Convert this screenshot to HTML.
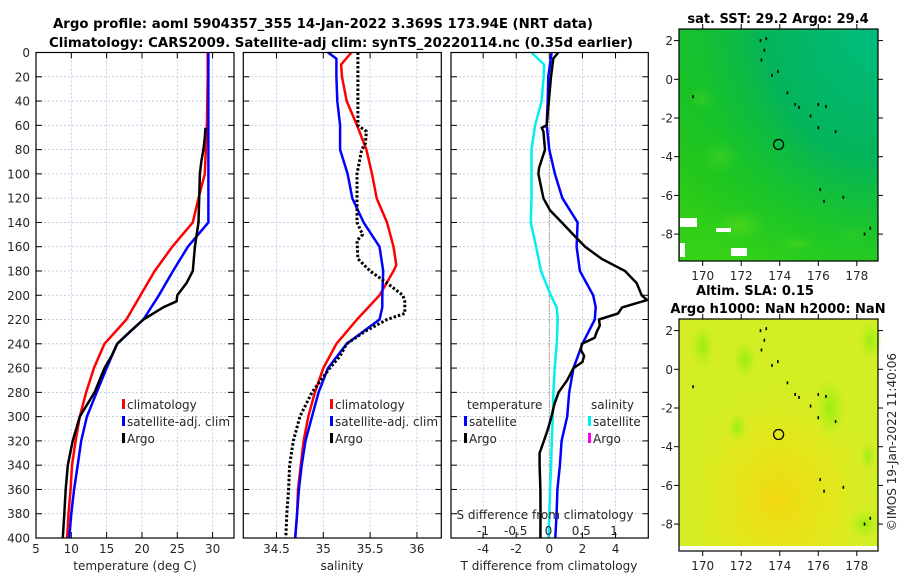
<!DOCTYPE html>
<html><head><meta charset="utf-8"><style>
html,body{margin:0;padding:0;background:#fff;}
svg{display:block;font-family:"DejaVu Sans","Liberation Sans",sans-serif;}
</style></head><body>
<svg id="fig" width="900" height="580" viewBox="0 0 900 580" xmlns="http://www.w3.org/2000/svg">
<defs>
<radialGradient id="sstTeal" cx="1" cy="0" r="1.25"><stop offset="0" stop-color="#00bc80"/><stop offset="0.45" stop-color="#04b45a"/><stop offset="0.75" stop-color="#10c030" stop-opacity="0.6"/><stop offset="1" stop-color="#10c020" stop-opacity="0"/></radialGradient>
<linearGradient id="sstBase" x1="0" y1="0" x2="0.3" y2="1"><stop offset="0" stop-color="#20c030"/><stop offset="0.5" stop-color="#28c818"/><stop offset="1" stop-color="#38d418"/></linearGradient>
<radialGradient id="sstLight" cx="0.5" cy="0.5" r="0.5"><stop offset="0" stop-color="#70e018" stop-opacity="0.8"/><stop offset="1" stop-color="#60e010" stop-opacity="0"/></radialGradient>
<radialGradient id="slaYellow" cx="0.5" cy="0.78" r="0.5"><stop offset="0" stop-color="#f2d810"/><stop offset="0.6" stop-color="#e8e418" stop-opacity="0.6"/><stop offset="1" stop-color="#e0ec20" stop-opacity="0"/></radialGradient>
<radialGradient id="slaGreen" cx="0.5" cy="0.5" r="0.5"><stop offset="0" stop-color="#98ee10"/><stop offset="1" stop-color="#b0f018" stop-opacity="0"/></radialGradient>
</defs>
</svg>
<script>
// ---- data (depth in m) ----
const depthTicks=[0,20,40,60,80,100,120,140,160,180,200,220,240,260,280,300,320,340,360,380,400];
const tempTicks=[5,10,15,20,25,30];
const salTicks=[34.5,35,35.5,36];
const tdiffTicks=[-4,-2,0,2,4];
const sdiffTicks=[-1,-0.5,0,0.5,1];
const sdiffTickLabels=["-1","-0.5","0","0.5","1"];
const lonTicks=[170,172,174,176,178];
const latTicks=[2,0,-2,-4,-6,-8];

const tClimDepth=[0,20,60,100,120,140,160,180,200,220,240,260,280,300,320,340,360,380,400];
const tClim=[29.3,29.3,29.2,28.9,28.0,27.2,24.3,21.8,19.8,17.8,14.7,13.2,12.1,11.2,10.6,10.1,9.9,9.6,9.4];
const tSatDepth=[0,40,80,120,140,160,180,200,220,240,260,280,300,320,340,360,380,400];
const tSat=[29.4,29.4,29.4,29.4,29.4,26.5,24.4,22.4,20.2,16.5,15.0,13.6,12.2,11.4,10.9,10.4,10.0,9.7];
const tArgoDepth=[62,70,80,90,100,120,140,160,180,190,200,205,210,220,230,240,250,260,280,300,320,340,360,380,400];
const tArgo=[29.0,28.9,28.7,28.4,28.2,28.1,28.0,27.5,27.2,26.3,25.0,24.9,23.0,20.2,18.3,16.5,15.7,14.7,13.3,11.2,10.2,9.5,9.2,9.0,8.8];

const sClimDepth=[0,10,20,40,60,80,100,120,140,160,175,180,200,220,240,260,280,300,320,340,360,380,400];
const sClim=[35.30,35.19,35.20,35.25,35.36,35.46,35.52,35.57,35.68,35.75,35.78,35.75,35.60,35.36,35.14,35.0,34.91,34.84,34.79,34.76,34.73,34.72,34.70];
const sSatDepth=[0,5,20,40,60,80,100,120,140,160,180,200,210,220,240,260,280,300,320,340,360,380,400];
const sSat=[35.05,35.14,35.14,35.15,35.18,35.18,35.26,35.31,35.43,35.60,35.64,35.63,35.63,35.60,35.25,35.05,34.95,34.88,34.81,34.77,34.74,34.72,34.70];
const sArgoDepth=[0,60,65,75,80,100,120,140,150,155,170,180,190,200,205,215,220,230,240,250,260,280,300,320,340,360,380,400];
const sArgo=[35.37,35.37,35.46,35.45,35.41,35.36,35.36,35.36,35.42,35.36,35.37,35.50,35.68,35.85,35.87,35.87,35.68,35.44,35.25,35.18,35.07,34.88,34.75,34.68,34.64,34.63,34.61,34.60];

const dTSatDepth=[0,20,40,60,80,100,120,140,160,180,200,210,220,240,260,280,300,320,340,360,380,400];
const dTSat=[0.14,-0.06,-0.1,-0.16,0,0.34,0.79,1.71,1.65,1.85,2.65,2.8,2.75,2.0,1.46,1.2,1.08,0.74,0.64,0.49,0.44,0.36];
const dTArgoDepth=[0,5,20,60,62,65,80,95,100,120,130,140,150,160,170,180,190,200,204,210,215,220,225,230,235,240,245,250,255,260,270,280,290,300,310,320,330,340,360,380,400];
const dTArgo=[0.54,0.24,0.1,-0.16,-0.46,-0.36,-0.26,-0.62,-0.66,-0.36,0.04,0.75,1.45,2.16,3.16,4.57,5.28,5.58,5.9,4.4,4.15,3.0,3.05,2.87,2.74,1.97,1.9,2.1,2.0,1.46,1.08,0.56,0.3,0.13,-0.08,-0.33,-0.59,-0.59,-0.54,-0.53,-0.54];
const dSSatDepth=[0,10,20,40,60,80,100,120,140,160,180,200,210,220,240,260,280,300,320,340,360,380,400];
const dSSat=[-0.26,-0.065,-0.075,-0.105,-0.205,-0.26,-0.26,-0.26,-0.27,-0.19,-0.115,0.035,0.125,0.14,0.125,0.095,0.075,0.065,0.05,0.04,0.025,0.012,0];

const islands=[[173,2.0],[173.2,1.5],[173.05,1.0],[173.3,2.1],[173.6,0.2],[173.9,0.4],[174.4,-0.7],[174.8,-1.3],[175.0,-1.45],[175.6,-1.9],[176,-1.3],[176.4,-1.4],[176,-2.5],[176.9,-2.7],[169.5,-0.9],[176.1,-5.7],[176.3,-6.3],[177.3,-6.1],[178.4,-8.0],[178.7,-7.7]];
const argoPos=[173.94,-3.369];

// ---- layout ----
const NS="http://www.w3.org/2000/svg";
const svg=document.getElementById('fig');
function el(tag,attrs,parent,text){const e=document.createElementNS(NS,tag);for(const k in attrs)e.setAttribute(k,attrs[k]);if(text!==undefined)e.textContent=text;(parent||svg).appendChild(e);return e;}
const Y0=52.5,Y1=538;
const yD=d=>Y0+(d/400)*(Y1-Y0);
function lin(d0,d1,p0,p1){return v=>p0+(v-d0)/(d1-d0)*(p1-p0);}
const panels=[
 {x0:36,x1:234,name:'temperature-panel',xs:lin(5,33.03,36,234)},
 {x0:243.3,x1:441.3,name:'salinity-panel',xs:lin(34.146,36.26,243.3,441.3)},
 {x0:451,x1:648.3,name:'difference-panel',xs:lin(-5.94,5.98,451,648.3)}
];
const sdx=lin(-1,1,483,614);

function panelFrame(p,xticks,xlabels,gridXs){
 const g=el('g',{}, svg);
 
 
 el('rect',{x:p.x0,y:Y0,width:p.x1-p.x0,height:Y1-Y0,fill:'#fff'},g);
 depthTicks.forEach(d=>{
  const l=el('line',{x1:p.x0,x2:p.x1,y1:yD(d),y2:yD(d),stroke:'#b8c4e0','stroke-width':0.8,'stroke-dasharray':'2,2'},g);
  
  el('line',{x1:p.x0,x2:p.x0+6,y1:yD(d),y2:yD(d),stroke:'#000','stroke-width':1},g);
  el('line',{x1:p.x1-6,x2:p.x1,y1:yD(d),y2:yD(d),stroke:'#000','stroke-width':1},g);
 });
 gridXs.forEach(x=>{
  const l=el('line',{x1:x,x2:x,y1:Y0,y2:Y1,stroke:'#b8c4e0','stroke-width':0.8,'stroke-dasharray':'2,2'},g);
  
  el('line',{x1:x,x2:x,y1:Y1,y2:Y1-6,stroke:'#000','stroke-width':1},g);
  el('line',{x1:x,x2:x,y1:Y0,y2:Y0+6,stroke:'#000','stroke-width':1},g);
 });
 xticks.forEach((x,i)=>{
  const t=el('text',{x:x,y:553,'font-size':12,'text-anchor':'middle',fill:'#262626'},g,xlabels[i]);
  
 });
 return g;
}
function line(g,xs,ds,vals,color,w,name,dash){
 const pts=vals.map((v,i)=>xs(v).toFixed(1)+','+yD(ds[i]).toFixed(1)).join(' ');
 const a={points:pts,fill:'none',stroke:color,'stroke-width':w,'stroke-linejoin':'round'};
 if(dash)a['stroke-dasharray']=dash;
 const pl=el('polyline',a,g);
 
 
}
function frame(p,g){el('rect',{x:p.x0,y:Y0,width:p.x1-p.x0,height:Y1-Y0,fill:'none',stroke:'#000','stroke-width':1.2},g);}
function legendItem(g,x,y,color,label,name){
 el('rect',{x:x,y:y-10,width:3,height:10,fill:color},g);
 const t=el('text',{x:x+5,y:y,'font-size':12,fill:'#262626'},g,label);
 
}

// panel 1
let p=panels[0];
let g=panelFrame(p,tempTicks.map(p.xs),tempTicks.map(String),tempTicks.slice(1).map(p.xs));
line(g,p.xs,tClimDepth,tClim,'#ff0000',2.5,'temp-climatology-line');
line(g,p.xs,tSatDepth,tSat,'#0000ff',2.5,'temp-satellite-line');
line(g,p.xs,tArgoDepth,tArgo,'#000',2.5,'temp-argo-line');
frame(p,g);
depthTicks.forEach(d=>{const t=el('text',{x:30,y:yD(d)+4.5,'font-size':12,'text-anchor':'end',fill:'#262626'},svg,String(d));});
el('text',{x:135,y:570,'font-size':12,'text-anchor':'middle',fill:'#262626'},svg,'temperature (deg C)');
legendItem(g,122,409,'#ff0000','climatology','legend-climatology');
legendItem(g,122,426,'#0000ff','satellite-adj. clim','legend-satellite');
legendItem(g,122,443,'#000','Argo','legend-argo');

// panel 2
p=panels[1];
g=panelFrame(p,salTicks.map(p.xs),salTicks.map(String),salTicks.map(p.xs));
line(g,p.xs,sClimDepth,sClim,'#ff0000',2.5,'sal-climatology-line');
line(g,p.xs,sSatDepth,sSat,'#0000ff',2.5,'sal-satellite-line');
line(g,p.xs,sArgoDepth,sArgo,'#000',3,'sal-argo-line','2.5,2');
frame(p,g);
el('text',{x:342,y:570,'font-size':12,'text-anchor':'middle',fill:'#262626'},svg,'salinity');
legendItem(g,330,409,'#ff0000','climatology','legend-climatology');
legendItem(g,330,426,'#0000ff','satellite-adj. clim','legend-satellite');
legendItem(g,330,443,'#000','Argo','legend-argo');

// panel 3
p=panels[2];
g=panelFrame(p,tdiffTicks.map(p.xs),tdiffTicks.map(String),tdiffTicks.map(p.xs));
el('line',{x1:p.xs(0),x2:p.xs(0),y1:Y0,y2:Y1,stroke:'#6b5a2a','stroke-width':1,'stroke-dasharray':'1,2'},g);
line(g,sdx,dSSatDepth,dSSat,'#00f0f0',2.5,'sal-diff-satellite-line');
line(g,p.xs,dTSatDepth,dTSat,'#0000ff',2.5,'temp-diff-satellite-line');
line(g,p.xs,dTArgoDepth,dTArgo,'#000',2.5,'temp-diff-argo-line');
frame(p,g);
el('text',{x:467,y:409,'font-size':12,fill:'#262626'},g,'temperature');
el('text',{x:591,y:409,'font-size':12,fill:'#262626'},g,'salinity');
legendItem(g,464,426,'#0000ff','satellite','legend-temp-satellite');
legendItem(g,464,443,'#000','Argo','legend-temp-argo');
legendItem(g,588,426,'#00f0f0','satellite','legend-sal-satellite');
legendItem(g,588,443,'#ff00e0','Argo','legend-sal-argo');
el('text',{x:545,y:519,'font-size':12,'text-anchor':'middle',fill:'#262626'},g,'S difference from climatology');
sdiffTicks.forEach((v,i)=>{const t=el('text',{x:sdx(v),y:535,'font-size':12,'text-anchor':'middle',fill:'#262626'},g,sdiffTickLabels[i]);});
el('text',{x:549,y:570,'font-size':12,'text-anchor':'middle',fill:'#262626'},svg,'T difference from climatology');

// titles
el('text',{x:323,y:28,'font-size':13,'font-weight':'bold','text-anchor':'middle',textLength:540,lengthAdjust:'spacingAndGlyphs'},svg,'Argo profile: aoml 5904357_355 14-Jan-2022 3.369S 173.94E (NRT data)');
el('text',{x:341,y:47,'font-size':13,'font-weight':'bold','text-anchor':'middle',textLength:584,lengthAdjust:'spacingAndGlyphs'},svg,'Climatology: CARS2009. Satellite-adj clim: synTS_20220114.nc (0.35d earlier)');

// maps
function map(top,name,fills){
 const lon=lin(168.77,179.1,679,878);
 const lat=v=>top+50.3-v*19.35;
 const mg=el('g',{},svg);
 
 
 fills(mg,lon,lat);
 islands.forEach(c=>{const r=el('rect',{x:lon(c[0])-0.8,y:lat(c[1])-1.5,width:1.6,height:3,fill:'#000'},mg);});
 el('circle',{cx:lon(argoPos[0]),cy:lat(argoPos[1]),r:5,fill:'none',stroke:'#000','stroke-width':1.3},mg);
 el('rect',{x:679,y:top,width:199,height:232,fill:'none',stroke:'#000','stroke-width':1.2},mg);
 latTicks.forEach(v=>{
  el('line',{x1:674,x2:679,y1:lat(v),y2:lat(v),stroke:'#000'},mg);
  el('line',{x1:878,x2:883,y1:lat(v),y2:lat(v),stroke:'#000'},mg);
  const t=el('text',{x:673,y:lat(v)+4.5,'font-size':12,'text-anchor':'end',fill:'#262626'},mg,String(v));
  
 });
 lonTicks.forEach(v=>{
  el('line',{x1:lon(v),x2:lon(v),y1:top-5,y2:top,stroke:'#000'},mg);
  el('line',{x1:lon(v),x2:lon(v),y1:top+232,y2:top+237,stroke:'#000'},mg);
  const t=el('text',{x:lon(v),y:top+251,'font-size':12,'text-anchor':'middle',fill:'#262626'},mg,String(v));
  
 });
}
map(29,'sst-map',(mg,lon,lat)=>{
 el('rect',{x:679,y:29,width:199,height:232,fill:'url(#sstBase)'},mg);
 [[171,-4,22,18],[172,-7.5,26,16],[170,-1,14,12],[177.8,-8,16,10],[175,-8.5,20,8]].forEach(c=>el('ellipse',{cx:lon(c[0]),cy:lat(c[1]),rx:c[2],ry:c[3],fill:'url(#sstLight)'},mg));
 el('rect',{x:679,y:29,width:199,height:232,fill:'url(#sstTeal)'},mg);
 [[680,218,17,9],[716,228,15,4],[731,248,16,8],[680,243,5,14]].forEach(r=>el('rect',{x:r[0],y:r[1],width:r[2],height:r[3],fill:'#fff'},mg));
});
map(319,'sla-map',(mg,lon,lat)=>{
 el('rect',{x:679,y:319,width:199,height:232,fill:'#d4ee24'},mg);
 el('rect',{x:679,y:319,width:199,height:232,fill:'url(#slaYellow)'},mg);
 [[170,1.2,12,24],[176.6,-2,16,32],[178.4,-8,16,16],[178.7,1.5,12,20],[172.2,0.5,12,20],[171.8,-3,10,16],[178.6,-4.5,8,14]].forEach(c=>el('ellipse',{cx:lon(c[0]),cy:lat(c[1]),rx:c[2],ry:c[3],fill:'url(#slaGreen)'},mg));
 el('rect',{x:679,y:546,width:199,height:5,fill:'#fff'},mg);
});
el('text',{x:778,y:23,'font-size':13,'font-weight':'bold','text-anchor':'middle'},svg,'sat. SST: 29.2 Argo: 29.4');
el('text',{x:755,y:295,'font-size':13,'font-weight':'bold','text-anchor':'middle'},svg,'Altim. SLA: 0.15');
el('text',{x:778,y:313,'font-size':13,'font-weight':'bold','text-anchor':'middle'},svg,'Argo h1000: NaN h2000: NaN');
el('text',{x:0,y:0,'font-size':12,'text-anchor':'middle',fill:'#262626',transform:'translate(896,442) rotate(-90)'},svg,'©IMOS 19-Jan-2022 11:40:06');
</script>
</body></html>
